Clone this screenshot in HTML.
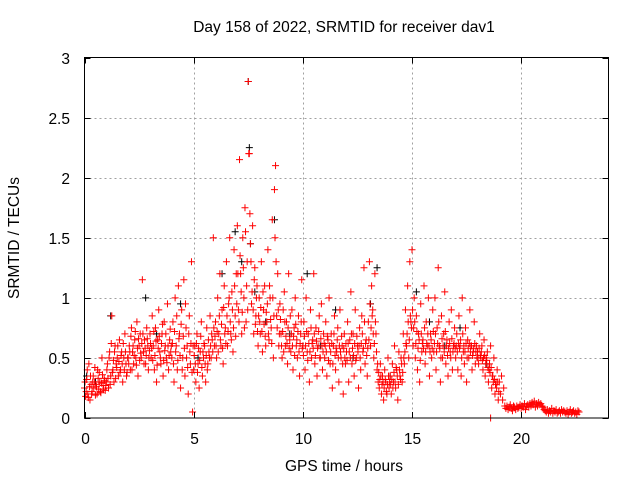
<!DOCTYPE html>
<html><head><meta charset="utf-8"><style>
body{margin:0;background:#fff;}
svg{display:block;font-family:"Liberation Sans",sans-serif;}
</style></head><body>
<svg id="chart" width="640" height="480" viewBox="0 0 640 480">
<text x="344" y="32" font-size="15.5" text-anchor="middle">Day 158 of 2022, SRMTID for receiver dav1</text>
<text transform="translate(19,238) rotate(-90)" font-size="15.5" text-anchor="middle">SRMTID / TECUs</text>
<text x="344" y="471" font-size="15.5" text-anchor="middle">GPS time / hours</text>
<g id="grid"></g>
<g id="marks"></g>
<rect x="84.5" y="57.5" width="524" height="360.5" fill="none" stroke="#000" stroke-width="1"/>
<g id="ticks"></g>
</svg>
<script>
const xTicks=[0,5,10,15,20];
const yTicks=[0,0.5,1,1.5,2,2.5,3];
const yTickLabels=["0","0.5","1","1.5","2","2.5","3"];
const redStart=0, redStep=0.05;
const redValues=[
.25,.18,.32,.2,.45,.15,.28,.22,.35,.3,.19,.26,.4,.24,.3,.21,.5,.27,.33,.23,
.3,.45,.25,.55,.35,.85,.4,.3,.6,.45,.5,.35,.65,.4,.55,.3,.5,.7,.45,.38,
.5,.6,.4,.75,.55,.45,.65,.5,.8,.35,.6,.7,.5,1.15,.55,.65,.45,.75,.6,.5,
.7,.5,.85,.6,.4,.75,.3,.65,.9,.55,.45,.7,.35,.8,.6,.5,.95,.4,.65,.55,
.5,.8,.3,1.0,.6,.4,1.1,.7,.25,.9,.5,1.15,.35,.75,.6,.2,.85,.45,1.3,.05,
.4,.6,.3,.7,.45,.25,.55,.8,.35,.5,.6,.3,.75,.45,.55,.85,.5,.65,1.5,.6,
.8,.5,1.0,.7,1.2,.6,.9,.45,1.1,.75,1.3,.6,.95,1.5,.7,1.05,.55,1.4,.85,1.2,
1.6,.9,2.15,1.2,.7,1.5,1.0,1.75,.8,1.3,2.8,2.2,1.45,.95,1.6,.7,1.25,.85,1.1,.6,
1.0,.7,1.3,.55,.9,1.1,.6,.8,1.4,.65,1.0,.75,1.65,.5,1.9,2.1,.85,1.2,.6,.95,
.7,.5,.9,1.05,.6,.8,.45,1.2,.65,.55,.9,.4,.75,1.0,.6,.5,.85,.35,.7,1.15,
.6,.8,.4,1.0,.55,.7,.3,.9,.5,.65,1.2,.45,.75,.35,.6,.85,.5,.95,.4,.7,
.5,.8,.35,.65,1.0,.45,.7,.25,.6,.85,.4,.55,.75,.3,.9,.5,.6,.2,.7,.45,
.55,.8,.3,.65,1.05,.45,.7,.35,.9,.5,.6,.25,.75,.4,.85,.55,1.25,.45,.65,.35,
.8,1.3,.6,1.1,.9,.5,1.2,.7,.4,.3,.25,.45,.2,.35,.15,.4,.3,.2,.5,.25,
.35,.2,.45,.3,.6,.25,.4,.15,.55,.35,.5,.3,.7,.45,.9,.6,1.1,.5,1.3,.8,
1.4,.6,1.0,.5,.85,.4,.7,.3,.95,.55,.65,1.1,.45,.8,.6,1.0,.35,.7,.5,.9,
.55,1.0,.4,.75,1.25,.6,.3,.85,.5,.7,1.05,.45,.65,.35,.8,.55,.9,.4,.6,.75,
.5,.7,.4,.85,.6,.35,1.0,.55,.45,.75,.3,.65,.5,.9,.6,.4,.55,.8,.45,.6,
.55,.45,.7,.5,.6,.4,.65,.35,.5,.55,.3,.45,.6,.25,.35,.5,.2,.3,.4,.15,
.3,.2,.35,.15,.25,.1,.08,.1,.07,.09,.11,.08,.06,.1,.09,.07,.1,.08,.09,.11,
.08,.1,.09,.12,.07,.1,.11,.09,.12,.1,.13,.11,.14,.09,.12,.1,.13,.11,.12,.1,
.09,.07,.06,.05,.07,.04,.06,.05,.08,.04,.06,.05,.07,.04,.05,.06,.04,.07,.05,.06,
.05,.04,.06,.03,.05,.07,.04,.05,.06,.04,.05,.03,.06,.05];
const red2Start=0.025, red2Step=0.05;
const red2Values=[
.3,.22,.4,.17,.26,.35,.2,.3,.25,.42,.28,.2,.33,.38,.22,.29,.36,.24,.31,.27,
.4,.33,.5,.28,.62,.38,.48,.55,.33,.42,.6,.47,.38,.52,.45,.62,.4,.55,.35,.5,
.45,.55,.68,.4,.6,.52,.72,.44,.58,.66,.48,.54,.62,.7,.45,.58,.52,.66,.4,.56,
.62,.58,.48,.72,.52,.64,.44,.58,.68,.5,.62,.78,.48,.56,.7,.46,.6,.52,.74,.6,
.62,.45,.72,.55,.85,.48,.66,.52,.78,.4,.68,.58,.95,.5,.42,.7,.55,.62,.38,.6,
.52,.45,.62,.38,.58,.48,.68,.42,.55,.62,.45,.52,.4,.65,.5,.6,.7,.55,.75,.68,
.6,.72,.55,.85,.65,.78,.58,.92,.7,.62,.85,.72,1.0,.8,.65,.9,.75,1.1,.68,.95,
1.2,.8,1.35,1.05,.88,1.25,.75,1.55,1.1,.9,2.2,1.7,1.3,1.05,.9,1.15,.78,1.0,.72,.85,
.8,.92,.72,1.05,.78,.68,.88,.95,.7,1.1,.82,.62,1.0,.85,1.5,1.3,.75,.9,.7,.82,
.6,.72,.55,.8,.68,.62,.75,.58,.85,.7,.6,.68,.52,.78,.65,.72,.55,.62,.8,.58,
.52,.68,.6,.72,.48,.62,.55,.75,.62,.58,.7,.52,.64,.58,.72,.5,.66,.6,.55,.62,
.6,.55,.68,.48,.6,.55,.62,.45,.7,.52,.58,.65,.5,.6,.55,.68,.45,.58,.5,.62,
.48,.62,.55,.5,.7,.58,.52,.62,.48,.68,.55,.6,.5,.62,.7,.58,.8,.62,.52,.58,
.65,.95,.75,.85,.7,.62,.8,.55,.45,.38,.32,.35,.28,.3,.25,.32,.22,.28,.35,.3,
.28,.32,.25,.38,.3,.42,.35,.28,.4,.32,.45,.38,.5,.55,.62,.7,.8,.65,.85,.75,
.9,.75,.8,.62,.72,.58,.65,.48,.7,.62,.58,.75,.55,.62,.7,.6,.55,.65,.58,.72,
.62,.7,.55,.62,.8,.58,.5,.66,.6,.55,.72,.6,.52,.58,.62,.5,.66,.55,.62,.58,
.6,.55,.62,.58,.65,.5,.7,.6,.55,.62,.5,.58,.62,.55,.6,.52,.58,.62,.55,.5,
.5,.58,.52,.55,.48,.5,.52,.45,.48,.42,.4,.38,.42,.35,.3,.32,.28,.25,.3,.22];
const blackTimes=[0.1,0.5,1.2,2.8,3.3,4.4,5.2,6.3,6.9,7.2,7.5,7.55,7.6,7.8,8.3,8.7,9.4,10.2,10.8,11.5,12.3,13.1,13.4,14.0,15.2,15.8,16.5,17.2,18.0,18.4];
const blackValues=[0.35,0.3,0.85,1.0,0.7,0.95,0.5,1.2,1.55,1.3,2.8,2.25,1.45,1.05,0.8,1.65,0.7,1.2,0.6,0.9,0.5,0.95,1.25,0.35,1.05,0.8,0.6,0.75,0.55,0.45];
const extraTimes=[18.6];
const extraValues=[0];

const X0=84.5,X1=608.5,Y0=418,Y1=57.5,XMAX=24,YMAX=3;
const xs=t=>X0+(X1-X0)*t/XMAX;
const ys=v=>Y0-(Y0-Y1)*v/YMAX;
const NS="http://www.w3.org/2000/svg";
const grid=document.getElementById('grid'),ticks=document.getElementById('ticks'),marks=document.getElementById('marks');
function line(p,x1,y1,x2,y2,st,dash){const l=document.createElementNS(NS,'line');l.setAttribute('x1',x1);l.setAttribute('y1',y1);l.setAttribute('x2',x2);l.setAttribute('y2',y2);l.setAttribute('stroke',st);if(dash)l.setAttribute('stroke-dasharray',dash);p.appendChild(l);return l;}
xTicks.forEach(t=>{const x=Math.round(xs(t))+0.5;
 if(t>0){const g=line(grid,x,Y1,x,Y0,'#a0a0a0','2,3');
 
 }
 const a=line(ticks,x,Y0,x,Y0-6,'#000');
 
 
 const b=line(ticks,x,Y1,x,Y1+6,'#000');
 
 
 const tx=document.createElementNS(NS,'text');tx.setAttribute('x',x);tx.setAttribute('y',444);tx.setAttribute('font-size','15.5');tx.setAttribute('text-anchor','middle');tx.textContent=t;
 
 
 ticks.appendChild(tx);});
yTicks.forEach((v,i)=>{const y=Math.round(ys(v))+0.5;
 if(v>0&&v<3){const g=line(grid,X0,y,X1,y,'#a0a0a0','2,3');
 
 }
 const a=line(ticks,X0,y,X0+6,y,'#000');
 
 
 const b=line(ticks,X1,y,X1-6,y,'#000');
 
 
 const tx=document.createElementNS(NS,'text');tx.setAttribute('x',70);tx.setAttribute('y',y+5.5);tx.setAttribute('font-size','15.5');tx.setAttribute('text-anchor','end');tx.textContent=yTickLabels[i];
 
 
 ticks.appendChild(tx);});
function plus(t,v,col,name){const x=xs(t),y=ys(v);const p=document.createElementNS(NS,'path');
 p.setAttribute('d',`M${x-3.5} ${y}H${x+3.5}M${x} ${y-3.5}V${y+3.5}`);p.setAttribute('stroke',col);p.setAttribute('stroke-width','1');p.setAttribute('fill','none');
 
 
 marks.appendChild(p);}
blackValues.forEach((v,i)=>plus(blackTimes[i],v,'#000','black-point'));
redValues.forEach((v,i)=>plus(redStart+i*redStep,v,'#f00','red-point'));
red2Values.forEach((v,i)=>plus(red2Start+i*red2Step,v,'#f00','red-point'));
extraValues.forEach((v,i)=>plus(extraTimes[i],v,'#f00','red-point'));
</script>
</body></html>
